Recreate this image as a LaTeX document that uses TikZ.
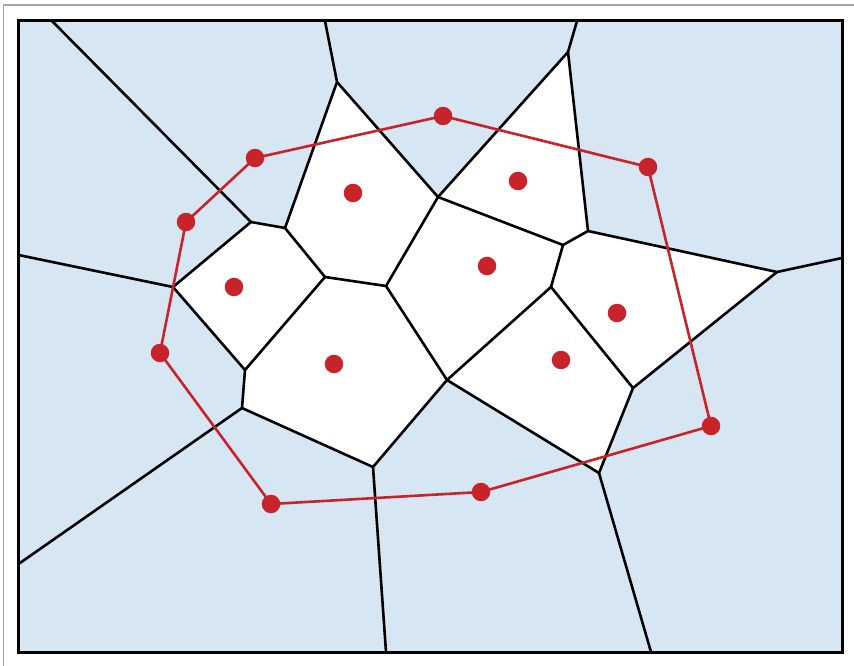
\documentclass[tikz,border=0pt]{standalone}
\definecolor{cellblue}{RGB}{214,230,242}
\definecolor{sitered}{RGB}{200,34,42}
\tikzset{
  edge/.style={black,line width=2.6pt,line cap=round,line join=round},
  hull/.style={sitered,line width=2.6pt,line join=round},
  site/.style={circle,fill=sitered,inner sep=0pt,minimum size=18.5pt},
  inner/.style={fill=white,draw=none},
}
\begin{document}
\begin{tikzpicture}[x=1pt,y=-1pt]
\useasboundingbox (0,0) rectangle (854,666);
\draw[gray!70,line width=1.4pt] (3.5,5) rectangle (860,672);
% frame corners
\coordinate (tl) at (18.5,21);
\coordinate (br) at (842,652);
\fill[cellblue] (tl) rectangle (br);
% Voronoi vertices
\coordinate (A) at (251,222);
\coordinate (B) at (285,228);
\coordinate (C) at (337,82);
\coordinate (D) at (438,197);
\coordinate (E) at (568,52);
\coordinate (F) at (563,245);
\coordinate (G) at (588,231);
\coordinate (H) at (777,272);
\coordinate (I) at (633,388);
\coordinate (J) at (551,287);
\coordinate (K) at (325,277);
\coordinate (L) at (386,286);
\coordinate (M) at (447,380);
\coordinate (Q) at (245,370);
\coordinate (R) at (173,287);
\coordinate (S) at (242,408);
\coordinate (T) at (373,467);
\coordinate (U) at (599,473);
% border ends
\coordinate (t1) at (52,21);
\coordinate (t2) at (325,21);
\coordinate (t3) at (577,21);
\coordinate (r1) at (842,258);
\coordinate (l1) at (18.5,255);
\coordinate (l2) at (18.5,564);
\coordinate (b1) at (386,652);
\coordinate (b2) at (651,652);
% white (bounded) cells
\fill[inner] (B) -- (C) -- (D) -- (L) -- (K) -- cycle;
\fill[inner] (D) -- (E) -- (G) -- (F) -- cycle;
\fill[inner] (R) -- (A) -- (B) -- (K) -- (Q) -- cycle;
\fill[inner] (D) -- (F) -- (J) -- (M) -- (L) -- cycle;
\fill[inner] (K) -- (L) -- (M) -- (T) -- (S) -- (Q) -- cycle;
\fill[inner] (M) -- (J) -- (I) -- (U) -- cycle;
\fill[inner] (F) -- (G) -- (H) -- (I) -- (J) -- cycle;
% Voronoi edges
\draw[edge] (t1) -- (A) -- (B) -- (C) -- (t2);
\draw[edge] (A) -- (R) -- (l1);
\draw[edge] (B) -- (K) -- (L) -- (D) -- (C);
\draw[edge] (D) -- (E) -- (t3);
\draw[edge] (E) -- (G) -- (F) -- (D);
\draw[edge] (G) -- (H) -- (r1);
\draw[edge] (H) -- (I) -- (J) -- (F);
\draw[edge] (I) -- (U) -- (b2);
\draw[edge] (J) -- (M) -- (L);
\draw[edge] (M) -- (U);
\draw[edge] (M) -- (T) -- (b1);
\draw[edge] (K) -- (Q) -- (R);
\draw[edge] (Q) -- (S) -- (l2);
\draw[edge] (S) -- (T);
% frame
\draw[black,line width=3pt] (tl) rectangle (br);
% hull sites
\coordinate (h1) at (443,116);
\coordinate (h2) at (648,167);
\coordinate (h3) at (711,426);
\coordinate (h4) at (481,492);
\coordinate (h5) at (271,504);
\coordinate (h6) at (160,353);
\coordinate (h7) at (186,222);
\coordinate (h8) at (255,158);
\draw[hull] (h1) -- (h2) -- (h3) -- (h4) -- (h5) -- (h6) -- (h7) -- (h8) -- cycle;
\foreach \p in {h1,h2,h3,h4,h5,h6,h7,h8} \node[site] (n\p) at (\p) {};
% interior sites
\node[site] (s1) at (353,193) {};
\node[site] (s2) at (518,181) {};
\node[site] (s3) at (234,287) {};
\node[site] (s4) at (487,266) {};
\node[site] (s5) at (334,364) {};
\node[site] (s6) at (561,360) {};
\node[site] (s7) at (617,313) {};
\end{tikzpicture}
\end{document}
